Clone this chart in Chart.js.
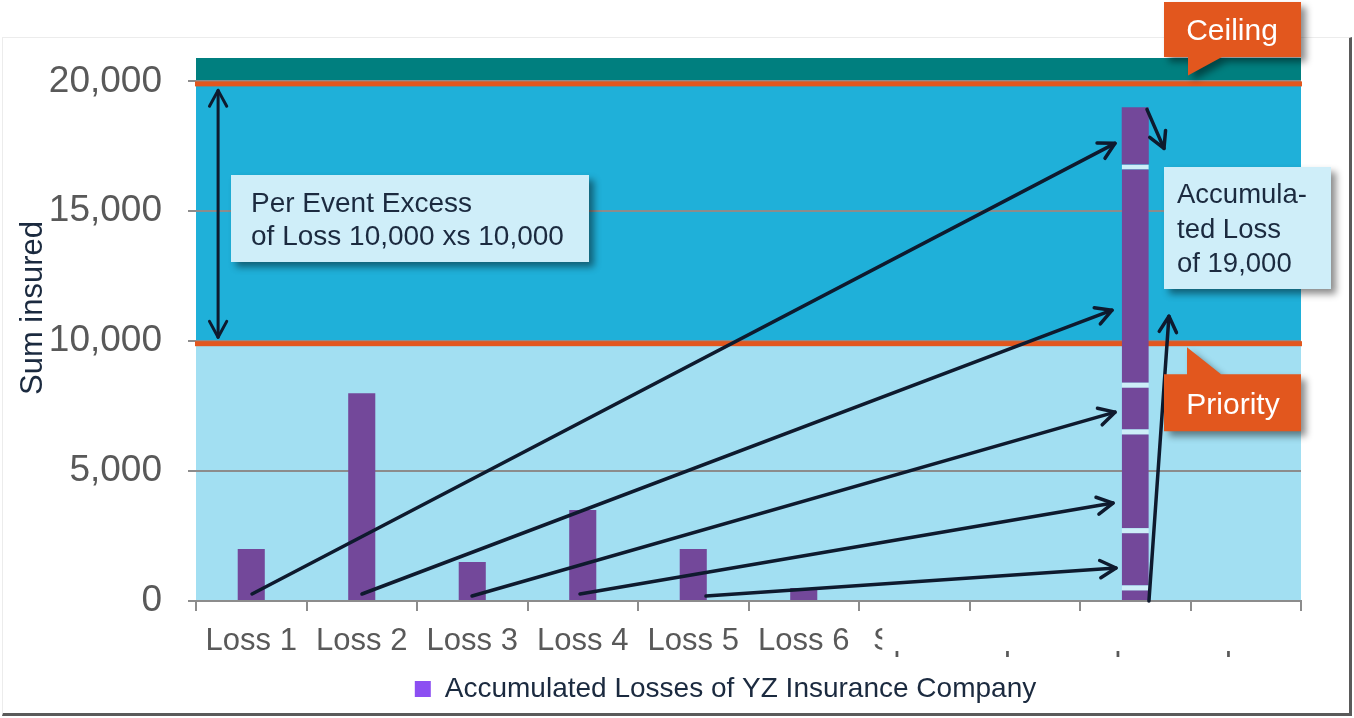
<!DOCTYPE html>
<html><head><meta charset="utf-8">
<script src="https://cdn.jsdelivr.net/npm/chart.js@4.4.1/dist/chart.umd.min.js"></script>
<style>
html,body{margin:0;padding:0;background:#fff;width:1354px;height:718px;overflow:hidden;}
#frame{position:absolute;left:2px;top:37px;width:1350px;height:679px;border-top:1px solid #ececec;border-left:1px solid #ececec;border-right:3px solid #5a5a5a;border-bottom:3px solid #5a5a5a;box-sizing:border-box;}
#wrap{position:absolute;left:0;top:0;width:1354px;height:718px;}
</style></head><body>
<div id="frame"></div>
<div id="wrap"><canvas id="c" width="1354" height="718"></canvas></div>
<script>
// ---- data ----
const categories = ['Loss 1','Loss 2','Loss 3','Loss 4','Loss 5','Loss 6','Spare','Spare','Spare','Spare'];
const lossValues = [2000, 8000, 1500, 3500, 2000, 500, null, null, null, null];
const accumulatedIndex = 8;
const accumulatedSegments = [600, 2200, 3800, 1800, 8400, 2200]; // bottom to top
const yTicks = [0, 5000, 10000, 15000, 20000];
const yMax = 20900;
const priority = 10000;
const ceiling = 20000;
const legendLabel = 'Accumulated Losses of YZ Insurance Company';
const yTitle = 'Sum insured';
// arrows in (category index, value)
const arrowStarts = [[0.007,269],[1.002,269],[1.998,192],[2.975,269],[4.115,192],[8.124,0],[8.106,18923]];
const arrowEnds   = [[7.817,17615],[7.790,11192],[7.817,7269],[7.799,3769],[7.826,1269],[8.305,10962],[8.260,17423]];
const layerArrow = [[-0.30,19654],[-0.30,10154]];
const layerText = ['Per Event Excess','of Loss 10,000 xs 10,000'];
const accText = ['Accumula-','ted Loss','of 19,000'];
const ceilingText = 'Ceiling';
const priorityText = 'Priority';

const FONT = '"Liberation Sans", Arial, sans-serif';
const barColor = '#73489a';
const sepColor = '#cdeef8';
const navy = '#1b2a3f';
const arrowColor = '#0e1a2e';

Chart.defaults.font.family = FONT;

function drawArrowHead(ctx, x1, y1, x2, y2) {
  const a = Math.atan2(y2 - y1, x2 - x1);
  const len = 18, spr = 0.5;
  ctx.beginPath();
  ctx.moveTo(x2 - len * Math.cos(a - spr), y2 - len * Math.sin(a - spr));
  ctx.lineTo(x2, y2);
  ctx.lineTo(x2 - len * Math.cos(a + spr), y2 - len * Math.sin(a + spr));
  ctx.stroke();
}
function drawArrow(ctx, p1, p2, both) {
  ctx.beginPath(); ctx.moveTo(p1[0], p1[1]); ctx.lineTo(p2[0], p2[1]); ctx.stroke();
  drawArrowHead(ctx, p1[0], p1[1], p2[0], p2[1]);
  if (both) drawArrowHead(ctx, p2[0], p2[1], p1[0], p1[1]);
}
function shadowOn(ctx) {
  ctx.shadowColor = 'rgba(0,0,0,0.45)'; ctx.shadowBlur = 7; ctx.shadowOffsetX = 5; ctx.shadowOffsetY = 5;
}
function shadowOff(ctx) {
  ctx.shadowColor = 'transparent'; ctx.shadowBlur = 0; ctx.shadowOffsetX = 0; ctx.shadowOffsetY = 0;
}

const deco = {
  id: 'deco',
  afterLayout(chart) {
    const lg = chart.legend;
    if (lg) { lg.left += 150; }
  },
  beforeDraw(chart) {
    const {ctx, chartArea: a, scales: {y}} = chart;
    ctx.save();
    const y0 = y.getPixelForValue(0), yp = y.getPixelForValue(priority), yc = y.getPixelForValue(ceiling);
    ctx.fillStyle = '#a2dff2'; ctx.fillRect(a.left, yp, a.right - a.left, y0 - yp);
    ctx.fillStyle = '#1fb0d9'; ctx.fillRect(a.left, yc, a.right - a.left, yp - yc);
    ctx.fillStyle = '#007f7f'; ctx.fillRect(a.left, a.top, a.right - a.left, yc - a.top);
    ctx.restore();
  },
  beforeDatasetsDraw(chart) {
    const {ctx, chartArea: a, scales: {y}} = chart;
    ctx.save();
    ctx.fillStyle = '#e2571e';
    [priority, ceiling].forEach(v => {
      const py = y.getPixelForValue(v);
      ctx.fillRect(a.left - 1, py, a.right - a.left + 2, 5);
    });
    ctx.restore();
  },
  afterDatasetsDraw(chart) {
    const {ctx, scales: {x, y}} = chart;
    const P = p => [x.getPixelForValue(p[0]), y.getPixelForValue(p[1])];
    ctx.save();
    ctx.strokeStyle = arrowColor; ctx.lineWidth = 3.5; ctx.lineCap = 'round'; ctx.lineJoin = 'round';
    arrowStarts.forEach((s, i) => drawArrow(ctx, P(s), P(arrowEnds[i]), false));
    ctx.lineWidth = 3;
    drawArrow(ctx, P(layerArrow[0]), P(layerArrow[1]), true);
    ctx.restore();
  },
  afterDraw(chart) {
    const {ctx, chartArea: a, scales: {x, y}} = chart;
    ctx.save();
    // hide upper part of spare labels
    const xs = x.getPixelForValue(6) - 32;
    ctx.fillStyle = '#ffffff';
    ctx.fillRect(xs, a.bottom + 11, a.right - xs, 39);

    // y title
    ctx.save();
    ctx.translate(33, 308); ctx.rotate(-Math.PI / 2);
    ctx.fillStyle = navy; ctx.font = '31px ' + FONT; ctx.textAlign = 'center'; ctx.textBaseline = 'middle';
    ctx.fillText(yTitle, 0, 0);
    ctx.restore();

    // text boxes
    ctx.textAlign = 'left'; ctx.textBaseline = 'alphabetic';
    const yp = y.getPixelForValue(priority), yc = y.getPixelForValue(ceiling);
    // Per event box
    shadowOn(ctx); ctx.fillStyle = '#cfeef9'; ctx.fillRect(231, 175, 358, 87); shadowOff(ctx);
    ctx.fillStyle = navy; ctx.font = '28px ' + FONT;
    layerText.forEach((t, i) => ctx.fillText(t, 251, 212 + i * 33));
    // accumulated box
    shadowOn(ctx); ctx.fillStyle = '#cfeef9'; ctx.fillRect(a.right - 137, 167, 167, 122); shadowOff(ctx);
    ctx.fillStyle = navy; ctx.font = '27.5px ' + FONT;
    accText.forEach((t, i) => ctx.fillText(t, a.right - 124, 203 + i * 34.5));

    // callouts
    const L = a.right - 137, R = a.right;
    ctx.fillStyle = '#e2571e';
    shadowOn(ctx);
    ctx.beginPath();
    ctx.moveTo(L, 2); ctx.lineTo(R, 2); ctx.lineTo(R, 57); ctx.lineTo(L + 58, 57);
    ctx.lineTo(L + 24, yc - 6); ctx.lineTo(L + 24, 57); ctx.lineTo(L, 57); ctx.closePath(); ctx.fill();
    ctx.beginPath();
    ctx.moveTo(L, yp + 33); ctx.lineTo(L + 23, yp + 33); ctx.lineTo(L + 23, yp + 6); ctx.lineTo(L + 57, yp + 33);
    ctx.lineTo(R, yp + 33); ctx.lineTo(R, yp + 90); ctx.lineTo(L, yp + 90); ctx.closePath(); ctx.fill();
    shadowOff(ctx);
    ctx.fillStyle = '#ffffff'; ctx.font = '30px ' + FONT; ctx.textAlign = 'center';
    ctx.fillText(ceilingText, L + 68, 40);
    ctx.fillText(priorityText, L + 69, yp + 73);
    ctx.restore();
  }
};

const datasets = [{
  label: legendLabel, data: lossValues, backgroundColor: barColor, borderWidth: 0, stack: 's'
}];
accumulatedSegments.forEach((v, i) => {
  datasets.push({
    label: 'seg' + i,
    data: categories.map((_, j) => j === accumulatedIndex ? v : null),
    backgroundColor: barColor,
    borderColor: sepColor,
    borderWidth: i < accumulatedSegments.length - 1 ? {top: 5, left: 0, right: 0, bottom: 0} : 0,
    stack: 's'
  });
});

new Chart(document.getElementById('c'), {
  type: 'bar',
  data: { labels: categories, datasets },
  plugins: [deco],
  options: {
    responsive: false, animation: false, devicePixelRatio: 1, events: [],
    layout: { padding: { left: 0, top: 58, right: 53, bottom: 5 } },
    datasets: { bar: { barPercentage: 0.245, categoryPercentage: 1.0 } },
    scales: {
      x: {
        stacked: true,
        afterFit: s => { s.height = 64; },
        grid: { drawOnChartArea: false, drawTicks: true, tickLength: 10, color: '#8c8c8c', lineWidth: 2, offset: true },
        border: { display: true, color: '#8c8c8c', width: 2 },
        ticks: { color: '#595959', font: { size: 31 }, padding: 12, maxRotation: 0, autoSkip: false }
      },
      y: {
        stacked: true, min: 0, max: yMax,
        afterFit: s => { s.width = 196; },
        afterBuildTicks: s => { s.ticks = yTicks.map(v => ({ value: v })); },
        grid: { color: '#8c8c8c', lineWidth: 2, tickLength: 8 },
        border: { display: false },
        ticks: { color: '#595959', font: { size: 37 }, padding: 26,
          callback: v => v.toLocaleString('en-US') }
      }
    },
    plugins: {
      tooltip: { enabled: false },
      legend: {
        position: 'bottom',
        labels: {
          font: { size: 28 }, color: navy, boxWidth: 16, boxHeight: 16, padding: 10,
          filter: item => item.datasetIndex === 0,
          generateLabels: chart => [{
            text: legendLabel, fillStyle: '#8c4ff2', strokeStyle: '#8c4ff2', lineWidth: 0,
            datasetIndex: 0, fontColor: navy, hidden: false
          }]
        }
      }
    }
  }
});
</script>
</body></html>
